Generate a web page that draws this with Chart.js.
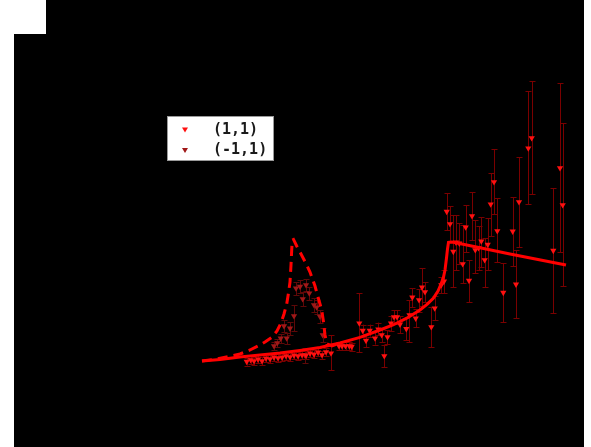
<!DOCTYPE html>
<html>
<head>
<meta charset="utf-8">
<script src="https://cdn.jsdelivr.net/npm/chart.js@4/dist/chart.umd.min.js"></script>
<style>
  html, body { margin: 0; padding: 0; background: #ffffff; }
  #wrap { width: 591px; height: 447px; }
</style>
</head>
<body>
<div id="wrap"><canvas id="c" width="591" height="447"></canvas></div>
<script>
// Polarisation channel (1,1): measured points with asymmetric errors
const xPos = [3.467, 3.507, 3.54, 3.58, 3.62, 3.66, 3.70, 3.74, 3.78, 3.82, 3.86, 3.90, 3.94, 3.98, 4.02, 4.06, 4.10, 4.14, 4.18, 4.22, 4.26, 4.31,
  4.39, 4.42, 4.455, 4.493, 4.517, 4.593, 4.627, 4.66, 4.697, 4.75, 4.783, 4.817, 4.843, 4.875, 4.91, 4.94, 4.97, 5.00, 5.063, 5.095, 5.123, 5.157,
  5.19, 5.22, 5.25, 5.313, 5.347, 5.413, 5.44, 5.467, 5.50, 5.533, 5.56, 5.593, 5.627, 5.657, 5.69, 5.72, 5.753, 5.785, 5.813, 5.847, 5.877,
  5.907, 5.94, 5.973, 6.033, 6.127, 6.16, 6.19, 6.283, 6.317, 6.533, 6.60, 6.627];
const yPos = [4.27, 4.35, 4.30, 4.38, 4.30, 4.43, 4.40, 4.48, 4.45, 4.48, 4.55, 4.50, 4.58, 4.55, 4.60, 4.58, 4.68, 4.63, 4.73, 4.60, 4.75, 4.69,
  5.05, 5.05, 5.05, 5.05, 5.02, 6.19, 5.82, 5.32, 5.82, 5.44, 5.89, 5.60, 4.55, 5.50, 6.18, 6.50, 6.50, 6.13, 5.91, 6.60, 7.48, 6.43,
  7.35, 7.98, 7.75, 6.00, 6.94, 8.10, 8.28, 11.77, 11.15, 9.77, 10.23, 10.18, 9.15, 10.99, 8.32, 11.55, 9.85, 9.95, 10.29, 9.35, 10.12,
  12.14, 13.25, 10.80, 7.72, 10.78, 8.13, 12.25, 14.94, 15.45, 9.82, 13.95, 12.10];
const yPosLo = [4.07, 4.15, 4.10, 4.18, 4.10, 4.23, 4.20, 4.28, 4.25, 4.28, 4.35, 4.30, 4.38, 4.35, 4.40, 4.38, 4.48, 4.43, 4.53, 4.40, 4.55, 3.85,
  4.85, 4.85, 4.85, 4.85, 4.82, 4.75, 5.52, 5.00, 5.52, 5.12, 5.58, 5.25, 4.00, 5.15, 5.80, 6.15, 6.15, 5.70, 5.35, 5.25, 7.00, 6.00,
  6.75, 7.05, 7.25, 5.00, 6.35, 7.70, 7.70, 10.85, 10.25, 8.00, 8.85, 9.15, 8.20, 9.75, 7.25, 10.35, 8.70, 8.85, 9.00, 8.00, 8.85,
  10.55, 11.65, 9.25, 6.25, 9.05, 6.45, 10.00, 12.15, 12.65, 6.70, 9.75, 8.05];
const yPosHi = [4.47, 4.55, 4.50, 4.58, 4.50, 4.63, 4.60, 4.68, 4.65, 4.68, 4.75, 4.70, 4.78, 4.75, 4.80, 4.78, 4.88, 4.83, 4.93, 4.80, 4.95, 5.60,
  5.25, 5.25, 5.25, 5.25, 5.22, 7.70, 6.12, 5.65, 6.12, 5.78, 6.22, 5.95, 5.10, 5.85, 6.55, 6.85, 6.85, 6.55, 6.45, 7.35, 7.95, 6.90,
  7.90, 8.95, 8.25, 7.00, 7.55, 8.50, 8.85, 12.70, 12.05, 11.60, 11.60, 11.20, 11.10, 12.10, 9.35, 12.75, 11.35, 11.05, 11.50, 10.45, 11.45,
  13.70, 14.90, 12.45, 9.20, 12.50, 9.85, 14.50, 17.80, 18.30, 12.95, 18.20, 16.20];

// Polarisation channel (-1,1): measured points around the resonance
const xNeg = [3.74, 3.773, 3.807, 3.84, 3.867, 3.90, 3.94, 3.96, 4.00, 4.027, 4.047, 4.06, 4.093, 4.14, 4.167, 4.20, 4.227];
const yNeg = [5.05, 5.20, 5.43, 6.05, 5.44, 5.93, 6.55, 7.94, 8.02, 7.40, 4.60, 8.10, 7.69, 7.10, 6.99, 6.52, 5.60];
const yNegLo = [4.85, 5.00, 5.20, 5.75, 5.15, 5.60, 5.80, 7.60, 7.70, 7.05, 4.20, 7.80, 7.35, 6.75, 6.65, 6.20, 5.25];
const yNegHi = [5.25, 5.40, 5.65, 6.35, 5.70, 6.25, 7.10, 8.25, 8.35, 7.75, 4.95, 8.40, 8.00, 7.45, 7.35, 6.85, 5.95];

// Model curve without the resonance (solid)
const baseX = [3.02, 3.20, 3.40, 3.60, 3.80, 4.00, 4.20, 4.40, 4.60, 4.80, 4.93, 5.067, 5.20, 5.27, 5.333, 5.38, 5.41, 5.433, 5.45, 5.465, 5.475, 5.485, 5.52, 5.583, 6.10, 6.66];
const baseY = [4.30, 4.38, 4.50, 4.60, 4.70, 4.83, 4.98, 5.20, 5.48, 5.85, 6.10, 6.44, 6.85, 7.13, 7.44, 7.80, 8.15, 8.45, 8.85, 9.45, 9.90, 10.23, 10.25, 10.19, 9.65, 9.10];

// Model curve including the resonance (dashed)
const resX = [3.02, 3.15, 3.28, 3.40, 3.50, 3.58, 3.65, 3.717, 3.77, 3.81, 3.84, 3.867, 3.885, 3.90, 3.91, 3.917, 3.923, 3.935, 3.967, 4.00, 4.05, 4.10, 4.15, 4.18, 4.217, 4.235, 4.25, 4.27, 4.32, 4.40];
const resY = [4.30, 4.39, 4.52, 4.65, 4.85, 5.05, 5.25, 5.48, 5.80, 6.20, 6.65, 7.15, 7.70, 8.25, 9.10, 9.85, 10.35, 10.38, 10.05, 9.75, 9.27, 8.75, 8.05, 7.50, 6.85, 6.25, 5.60, 5.15, 5.05, 5.20];

const seriesLabels = ['(1,1)', '(-1,1)'];

const toPts = (xs, ys) => xs.map((x, i) => ({ x: x, y: ys[i] }));

// Page backdrop: dark plot panel with a light notch at the upper left
const backdrop = {
  id: 'backdrop',
  beforeDraw(chart) {
    const ctx = chart.ctx;
    ctx.save();
    ctx.fillStyle = '#ffffff';
    ctx.fillRect(0, 0, chart.width, chart.height);
    ctx.fillStyle = '#000000';
    ctx.fillRect(14, 0, 570, chart.height);
    ctx.fillStyle = '#ffffff';
    ctx.fillRect(14, 0, 32, 34);
    ctx.restore();
  }
};

// Vertical error bars with caps, drawn under the markers
const errorBars = {
  id: 'errorBars',
  beforeDatasetsDraw(chart) {
    const ctx = chart.ctx;
    const xs = chart.scales.x, ys = chart.scales.y;
    ctx.save();
    chart.data.datasets.forEach(ds => {
      if (!ds.errLo) return;
      ctx.strokeStyle = ds.errColor;
      ctx.lineWidth = 1;
      ds.data.forEach((p, i) => {
        const px = Math.round(xs.getPixelForValue(p.x)) + 0.5;
        const top = ys.getPixelForValue(ds.errHi[i]);
        const bot = ys.getPixelForValue(ds.errLo[i]);
        ctx.beginPath();
        ctx.moveTo(px, top); ctx.lineTo(px, bot);
        ctx.moveTo(px - 3, Math.round(top) + 0.5); ctx.lineTo(px + 3, Math.round(top) + 0.5);
        ctx.moveTo(px - 3, Math.round(bot) + 0.5); ctx.lineTo(px + 3, Math.round(bot) + 0.5);
        ctx.stroke();
      });
    });
    ctx.restore();
  }
};

// Boxed legend inside the plot panel
const boxLegend = {
  id: 'boxLegend',
  afterDraw(chart) {
    const ctx = chart.ctx;
    const bx = 167.5, by = 116.5, bw = 106, bh = 44;
    ctx.save();
    ctx.fillStyle = '#ffffff';
    ctx.fillRect(bx, by, bw, bh);
    ctx.strokeStyle = '#9a9a9a';
    ctx.lineWidth = 1;
    ctx.strokeRect(bx, by, bw, bh);
    const pts = chart.data.datasets.filter(d => d.errLo);
    ctx.font = 'bold 15px "DejaVu Sans Mono", monospace';
    ctx.textBaseline = 'middle';
    pts.forEach((ds, r) => {
      const cy = by + 13 + r * 20.5;
      ctx.fillStyle = ds.pointBackgroundColor;
      ctx.beginPath();
      ctx.moveTo(182, cy - 2); ctx.lineTo(188, cy - 2); ctx.lineTo(185, cy + 3);
      ctx.closePath(); ctx.fill();
      ctx.fillStyle = '#1a1a1a';
      ctx.fillText(ds.label, 213, cy + 0.5);
    });
    ctx.restore();
  }
};

new Chart(document.getElementById('c'), {
  type: 'scatter',
  data: {
    datasets: [
      {
        label: 'model',
        data: toPts(baseX, baseY),
        showLine: true, borderColor: '#ff0000', borderWidth: 3,
        pointRadius: 0, tension: 0, order: 0
      },
      {
        label: 'model + resonance',
        data: toPts(resX, resY),
        showLine: true, borderColor: '#ff0000', borderWidth: 3, borderDash: [10, 6],
        pointRadius: 0, tension: 0, order: 0
      },
      {
        label: seriesLabels[0],
        data: toPts(xPos, yPos),
        errLo: yPosLo, errHi: yPosHi, errColor: '#7a0000',
        pointStyle: 'triangle', rotation: 180, pointRadius: 3.6,
        pointBackgroundColor: '#ff1010', pointBorderWidth: 0, showLine: false, order: 1
      },
      {
        label: seriesLabels[1],
        data: toPts(xNeg, yNeg),
        errLo: yNegLo, errHi: yNegHi, errColor: '#5e0808',
        pointStyle: 'triangle', rotation: 180, pointRadius: 3.6,
        pointBackgroundColor: '#a01818', pointBorderWidth: 0, showLine: false, order: 2
      }
    ]
  },
  options: {
    responsive: false,
    animation: false,
    layout: { padding: 0, autoPadding: false },
    scales: {
      x: { type: 'linear', min: 1, max: 6.91, display: false },
      y: { type: 'linear', min: 0, max: 22.35, display: false }
    },
    plugins: { legend: { display: false }, tooltip: { enabled: false } }
  },
  plugins: [backdrop, errorBars, boxLegend]
});
</script>
</body>
</html>
